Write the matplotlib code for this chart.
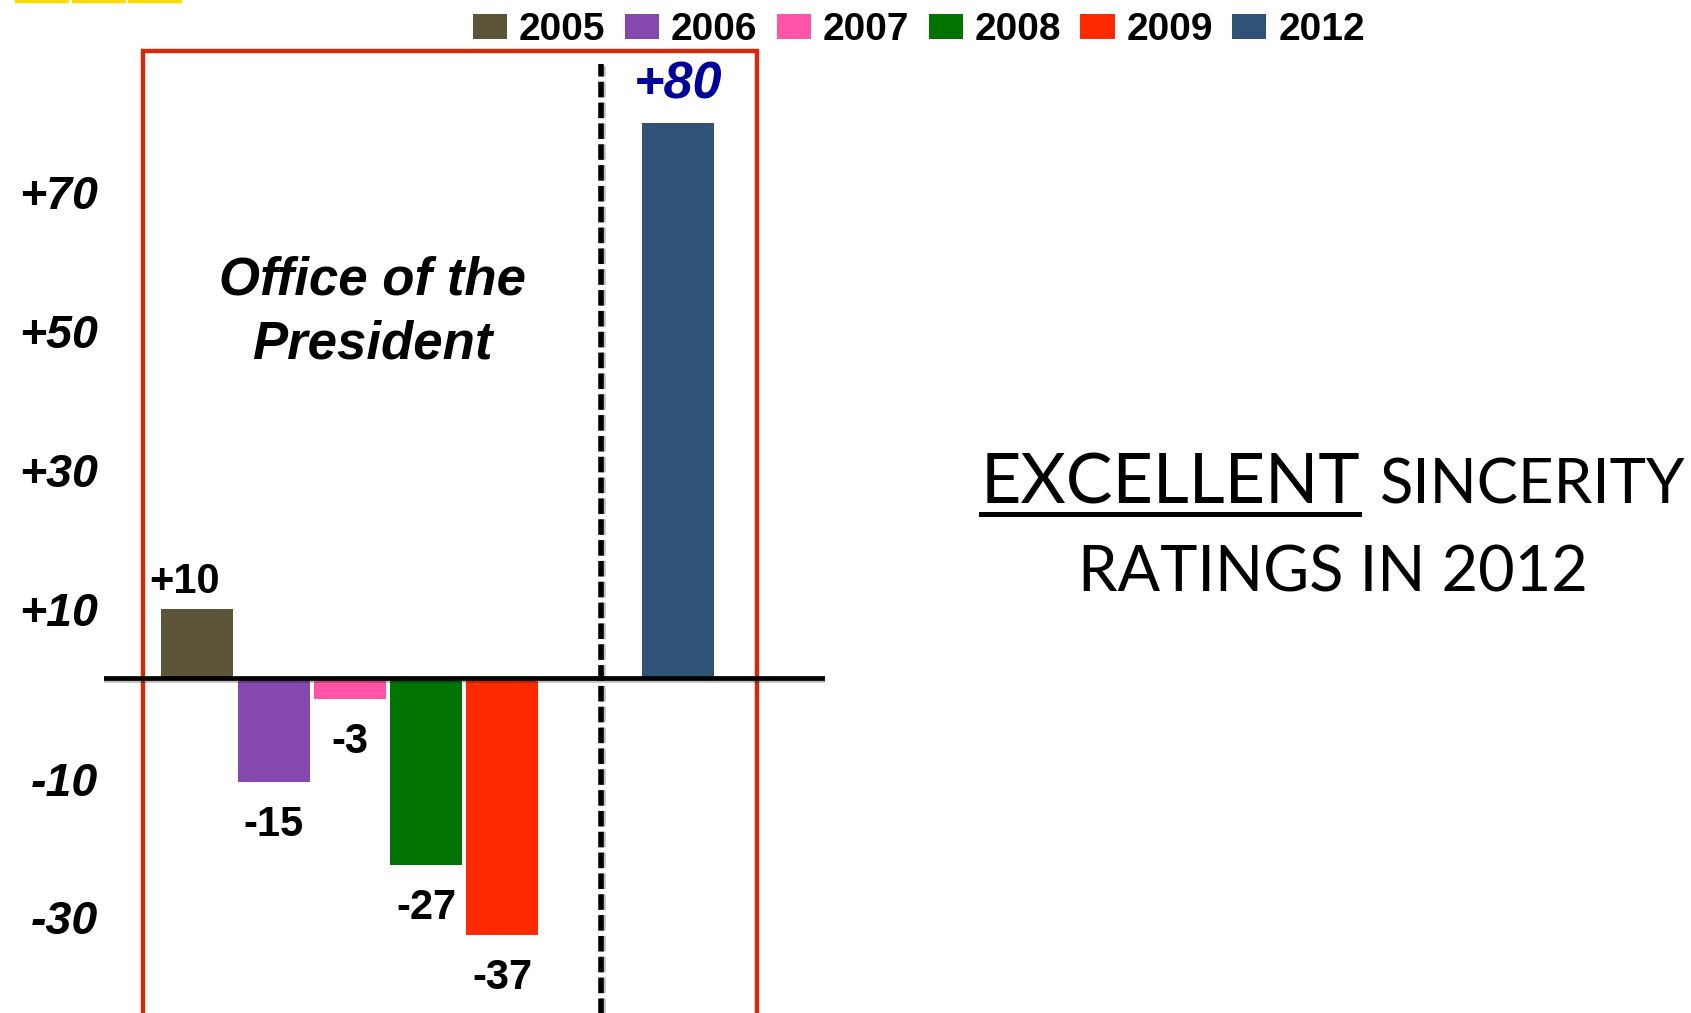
import numpy as np
import matplotlib
matplotlib.use('Agg')
import matplotlib.pyplot as plt
from matplotlib.patches import Rectangle
from matplotlib import patheffects as pe

plt.rcParams['font.family'] = ['Liberation Sans', 'DejaVu Sans']

# data
years = ['2005', '2006', '2007', '2008', '2009', '2012']
ratings = [10, -15, -3, -27, -37, 80]
bar_labels = ['+10', '-15', '-3', '-27', '-37', '+80']
colors = ['#5d5537', '#8548ae', '#ff55a8', '#007300', '#ff2a00', '#305276']
ytick_pos = [70, 50, 30, 10, -14.5, -34.5]
ytick_labels = ['+70', '+50', '+30', '+10', '-10', '-30']

W, H = 1691, 1013
fig = plt.figure(figsize=(W / 100, H / 100), dpi=100)
ax = fig.add_axes([103.5 / W, 0, (825 - 103.5) / W, 1])

# 2012 sits apart from the others
x_pos = np.append(np.arange(5), 6.3)
bars = ax.bar(x_pos, ratings, width=0.944, color=colors, zorder=2)

ax.set_xlim(-1.232, 8.23)
ax.set_ylim(-48.27, 97.7)

# zero line and divider
shadow = [pe.SimpleLineShadow(offset=(1.5, -1.5), alpha=0.25), pe.Normal()]
ax.axhline(0, color='black', lw=3.4, zorder=3, path_effects=shadow)
ax.plot([x_pos[-1] - 1.01] * 2, [-60, 88.5], color='black', lw=4.0,
        linestyle=(0, (2.8, 0.95)), zorder=3, path_effects=shadow)

# red frame round the president group
box = Rectangle((x_pos[0] - 0.72, -80), (x_pos[-1] + 1.04) - (x_pos[0] - 0.72), 80 + 90.3,
                fill=False, edgecolor='#d42a0b', lw=3.2, zorder=1)
ax.add_patch(box)

# value labels
for xi, v, lab in zip(x_pos, ratings, bar_labels):
    if lab == '+80':
        ax.annotate(lab, (xi, v), xytext=(0, 27), textcoords='offset points',
                    ha='center', va='center', fontsize=37.5, fontweight='bold',
                    fontstyle='italic', color='#00009a')
    elif v > 0:
        ax.annotate(lab, (xi, v), xytext=(-9, 19), textcoords='offset points',
                    ha='center', va='center', fontsize=30, fontweight='bold')
    else:
        ax.annotate(lab, (xi, v), xytext=(0, -31), textcoords='offset points',
                    ha='center', va='center', fontsize=30, fontweight='bold')

ax.text(2.29, 52.7, 'Office of the\nPresident', ha='center', va='center', fontsize=38,
        fontweight='bold', fontstyle='italic', linespacing=1.36)

ax.set_yticks(ytick_pos)
ax.set_yticklabels(ytick_labels, fontsize=33.5, fontweight='bold', fontstyle='italic')
ax.set_xticks([])
ax.tick_params(axis='y', length=0, pad=4)
for s in ax.spines.values():
    s.set_visible(False)
ax.patch.set_alpha(0)

ax.legend(bars, years, loc='center', bbox_to_anchor=(919 / W, 1 - 30 / H),
          bbox_transform=fig.transFigure, ncol=6, frameon=False,
          prop={'weight': 'bold', 'size': 28}, handlelength=0.88, handleheight=0.6,
          handletextpad=0.3, columnspacing=0.5, borderpad=0, borderaxespad=0)

# headline on the right, each piece sized to the width it takes in the slide
renderer = fig.canvas.get_renderer()


def fit_text(t, width_px):
    w = t.get_window_extent(renderer).width
    t.set_fontsize(t.get_fontsize() * width_px / w)


t1 = fig.text(981 / W, 1 - 504 / H, 'EXCELLENT', fontsize=52, family='Lato',
              ha='left', va='baseline')
fit_text(t1, 380)
t2 = fig.text(1379 / W, 1 - 504 / H, 'SINCERITY', fontsize=44, family='Lato',
              ha='left', va='baseline')
fit_text(t2, 306)
t3 = fig.text(1333 / W, 1 - 592 / H, 'RATINGS IN 2012', fontsize=45, family='Lato',
              ha='center', va='baseline')
fit_text(t3, 510)
fig.add_artist(plt.Line2D([981 / W, 1359 / W], [1 - 514 / H] * 2, color='black', lw=3.6,
                          transform=fig.transFigure))

# small yellow marks at the top-left
for x0 in [15, 72, 128]:
    fig.add_artist(Rectangle((x0 / W, 1 - 2 / H), 53 / W, 2 / H, color='#ffd800',
                             transform=fig.transFigure))

fig.savefig('out.png', dpi=100)
